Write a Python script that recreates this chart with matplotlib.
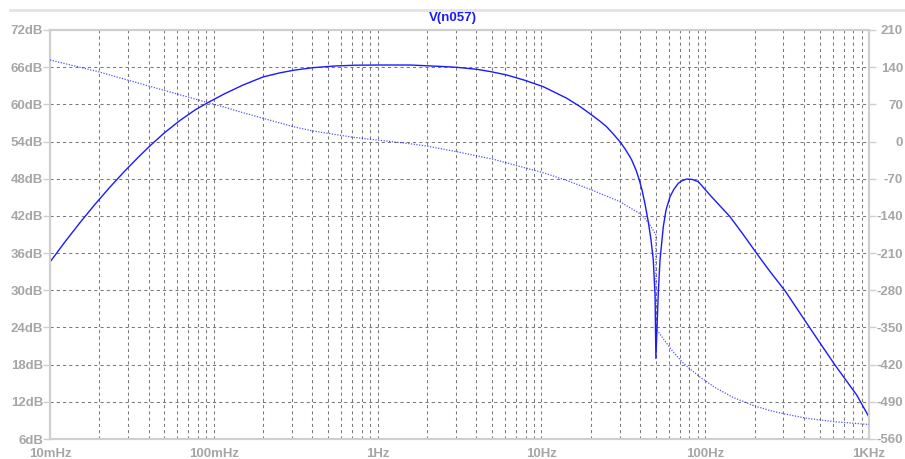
import matplotlib
matplotlib.use("Agg")
import matplotlib.pyplot as plt
from matplotlib.lines import Line2D
from matplotlib.ticker import LogLocator, FixedLocator, NullFormatter

# AC sweep of V(n057): frequency (Hz), magnitude (dB), phase (degrees)
mag_freq = [0.01, 0.012348, 0.015245, 0.018824, 0.023246, 0.02870, 0.03544, 0.0414,
            0.05037, 0.06218, 0.07676, 0.0925, 0.117, 0.1508, 0.1997, 0.2535, 0.3131,
            0.4033, 0.5495, 0.7277, 1.034, 1.58, 2.404, 3.04, 4.03, 4.973, 6.14, 7.941,
            10.27, 14.3, 17.20, 20.3, 22.79, 25.0, 27.36, 30.2, 32.38, 34.7, 35.60,
            37.81, 39.6, 41.13, 42.91, 44.96, 46.69, 48.2, 49.4, 50.0, 51.7, 52.97,
            55.5, 57.64, 61.0, 64.48, 68.5, 72.17, 77.1, 83.09, 90.8, 106.97, 123.0,
            141.7, 170.1, 206.0, 248.6, 307.0, 417.0, 502.3, 620.0, 841.0, 1000.0]
mag_db = [34.56, 37.82, 40.92, 43.87, 46.66, 49.28, 51.75, 53.47,
          55.49, 57.41, 59.09, 60.32, 61.74, 63.12, 64.42, 65.09, 65.54,
          65.92, 66.19, 66.32, 66.35, 66.35, 66.13, 65.98, 65.66, 65.25, 64.74, 63.88,
          62.85, 60.98, 59.65, 58.28, 57.28, 56.39, 55.27, 53.97, 52.83, 51.55, 51.02,
          49.41, 47.79, 46.18, 43.92, 41.02, 38.11, 34.88, 29.23, 19.0, 29.51, 34.88,
          40.26, 42.95, 45.10, 46.32, 47.26, 47.68, 47.95, 47.89, 47.52, 45.37, 43.63,
          41.87, 39.05, 35.96, 33.03, 29.93, 24.67, 21.49, 17.94, 13.10, 9.55]

phase_freq = [0.01, 0.01972, 0.0414, 0.0925, 0.117, 0.1508, 0.200, 0.306, 0.405, 0.711,
              1.58, 1.99, 3.04, 5.09, 10.27, 14.3, 20.3, 30.2, 39.6, 42.91, 46.0,
              49.4, 50.0, 50.0, 56.84, 62.70, 71.9, 80.8, 92.96, 114.8, 148.5,
              196.7, 248.6, 307.0, 417.0, 620.0, 1000.0]
phase_deg = [153.5, 131.5, 103.3, 73.1, 64.5, 54.3, 43.8, 27.9, 19.8, 8.0,
             -4.1, -8.4, -19.1, -33.4, -58.7, -73.3, -91.2, -113.3, -135.1, -144.9, -157.1,
             -172.8, -176.0, -352.0, -375.5, -393.4, -414.1, -428.2, -443.3, -463.1, -481.9,
             -496.9, -506.4, -513.0, -521.0, -527.5, -532.7]

freq_ticks = [0.01, 0.1, 1, 10, 100, 1000]
freq_labels = ["10mHz", "100mHz", "1Hz", "10Hz", "100Hz", "1KHz"]
db_ticks = list(range(6, 73, 6))
db_labels = [f"{v}dB" for v in db_ticks]
phase_ticks = list(range(-560, 211, 70))
phase_labels = [str(v) for v in phase_ticks]

title = "V(n057)"

TRACE = "#1a1aff"
LABEL = "#a6a6a6"
FRAME = "#cfcfcf"
GRID = "#7a7a7a"

plt.rcParams["font.family"] = ["Liberation Sans", "DejaVu Sans"]

fig = plt.figure(figsize=(9.05, 4.59), dpi=100)
ax = fig.add_axes([50 / 905, 1 - 439 / 459, 819 / 905, 409 / 459])
ax2 = ax.twinx()

ax.set_xscale("log")
ax.set_xlim(0.01, 1000)
ax.set_ylim(6, 72)
ax2.set_ylim(-560, 210)

ax.xaxis.set_major_locator(FixedLocator(freq_ticks))
ax.set_xticklabels(freq_labels)
ax.xaxis.set_minor_locator(LogLocator(base=10, subs=range(2, 10), numticks=20))
ax.xaxis.set_minor_formatter(NullFormatter())
ax.set_yticks(db_ticks)
ax.set_yticklabels(db_labels)
ax2.set_yticks(phase_ticks)
ax2.set_yticklabels(phase_labels)

grid_style = dict(color=GRID, linewidth=0.75, linestyle=(0, (3, 3)))
ax.grid(True, which="both", axis="x", **grid_style)
ax.grid(True, which="major", axis="y", **grid_style)

for a in (ax, ax2):
    for side in a.spines.values():
        side.set_color(FRAME)
        side.set_linewidth(1.5)

ax.tick_params(axis="x", which="both", length=0, pad=6.5, labelsize=9.5,
               labelcolor=LABEL)
ax.tick_params(axis="y", length=5, width=1, color=FRAME, pad=0, labelsize=9.5,
               labelcolor=LABEL)
ax2.tick_params(axis="y", length=5, width=1, color=FRAME, pad=19.5, labelsize=9.5,
                labelcolor=LABEL)
for lab in ax.get_xticklabels() + ax.get_yticklabels() + ax2.get_yticklabels():
    lab.set_fontweight("bold")
for lab in ax2.get_yticklabels():
    lab.set_horizontalalignment("right")

ax.plot(mag_freq, mag_db, color=TRACE, linewidth=1.0, zorder=3)
ax2.plot(phase_freq, phase_deg, color=TRACE, linewidth=0.9,
         linestyle=(0, (1, 1.2)), alpha=0.75, zorder=3)

fig.add_artist(Line2D([10 / 905, 1.0], [1 - 10 / 459, 1 - 10 / 459],
                      color="#e4e4e4", linewidth=2.0))
fig.text(0.5, 1 - 18 / 459, title, color="#1a1aff", fontsize=9.5,
         fontweight="bold", ha="center", va="center")

fig.savefig("out.png", dpi=100)
